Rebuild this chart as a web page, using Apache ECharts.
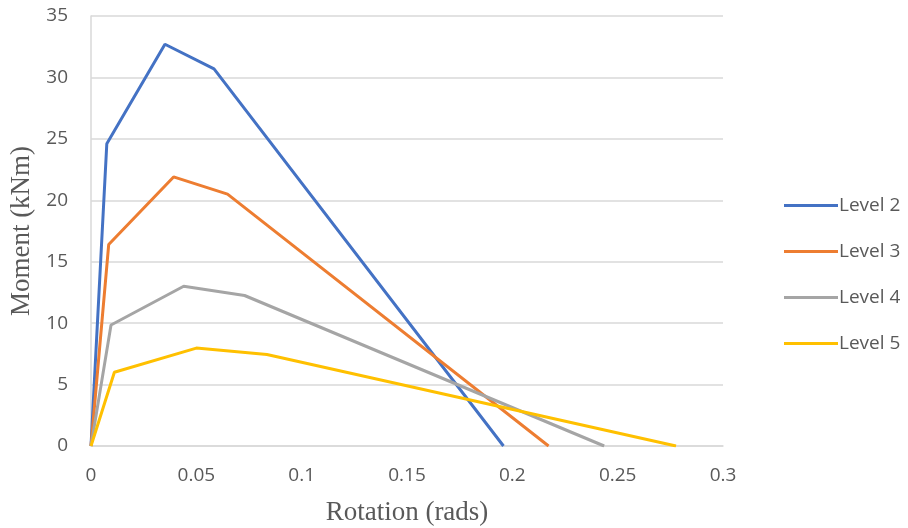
<!DOCTYPE html>
<html>
<head>
<meta charset="utf-8">
<script src="https://cdn.jsdelivr.net/npm/echarts@6/dist/echarts.min.js"></script>
<style>
  html, body { margin: 0; padding: 0; background: #fff; }
  #chart { width: 908px; height: 528px; }
</style>
</head>
<body>
<div id="chart"></div>
<script>
// rotation (rads) and moment (kNm) for each level
var seriesNames = ['Level 2', 'Level 3', 'Level 4', 'Level 5'];
var rotL2 = [0, 0.0075, 0.0351, 0.0584, 0.1958];
var momL2 = [0, 24.6, 32.7, 30.7, 0];
var rotL3 = [0, 0.0084, 0.0392, 0.0648, 0.2172];
var momL3 = [0, 16.4, 21.9, 20.5, 0];
var rotL4 = [0, 0.0095, 0.0440, 0.0729, 0.2436];
var momL4 = [0, 9.85, 13.0, 12.25, 0];
var rotL5 = [0, 0.0111, 0.0500, 0.0835, 0.2777];
var momL5 = [0, 6.0, 7.97, 7.45, 0];
var colors = ['#4472c4', '#ed7d31', '#a5a5a5', '#ffc000'];

var xTicks = [0, 0.05, 0.1, 0.15, 0.2, 0.25, 0.3];
var yTicks = [0, 5, 10, 15, 20, 25, 30, 35];

function pairs(xs, ys) {
  var out = [];
  for (var i = 0; i < xs.length; i++) out.push([xs[i], ys[i]]);
  return out;
}
var allData = [pairs(rotL2, momL2), pairs(rotL3, momL3), pairs(rotL4, momL4), pairs(rotL5, momL5)];

var series = [];
for (var i = 0; i < seriesNames.length; i++) {
  series.push({
    name: seriesNames[i],
    type: 'line',
    data: allData[i],
    symbol: 'none',
    color: colors[i],
    lineStyle: { width: 3, color: colors[i] }
  });
}

var chart = echarts.init(document.getElementById('chart'));
chart.setOption({
  animation: false,
  backgroundColor: '#fff',
  grid: { left: 91, right: 185, top: 16, bottom: 82, containLabel: false, outerBoundsMode: 'none' },
  legend: {
    orient: 'vertical',
    left: 779,
    top: 191,
    itemGap: 27,
    itemWidth: 54,
    itemHeight: 3,
    icon: 'rect',
    data: seriesNames,
    textStyle: { fontFamily: 'Open Sans', fontSize: 19, color: '#595959', padding: [0, 0, 0, -4] }
  },
  xAxis: {
    type: 'value',
    min: xTicks[0],
    max: xTicks[xTicks.length - 1],
    interval: 0.05,
    name: 'Rotation (rads)',
    nameLocation: 'middle',
    nameGap: 53,
    nameTextStyle: { fontFamily: 'Liberation Serif', fontSize: 27, color: '#595959' },
    axisLine: { show: true, lineStyle: { color: '#d9d9d9', width: 1.5 } },
    axisTick: { show: false },
    splitLine: { show: false },
    axisLabel: {
      fontFamily: 'Open Sans', fontSize: 19, color: '#595959', margin: 20,
      formatter: function (v) { return String(parseFloat(v.toFixed(2))); }
    }
  },
  yAxis: {
    type: 'value',
    min: yTicks[0],
    max: yTicks[yTicks.length - 1],
    interval: 5,
    name: 'Moment (kNm)',
    nameLocation: 'middle',
    nameGap: 55,
    nameRotate: 90,
    nameTextStyle: { fontFamily: 'Liberation Serif', fontSize: 27, color: '#595959' },
    axisLine: { show: true, lineStyle: { color: '#d9d9d9', width: 1.5 } },
    axisTick: { show: false },
    splitLine: { show: true, lineStyle: { color: '#d9d9d9', width: 1.5 } },
    axisLabel: { fontFamily: 'Open Sans', fontSize: 19, color: '#595959', margin: 23 }
  },
  series: series
});
</script>
</body>
</html>
